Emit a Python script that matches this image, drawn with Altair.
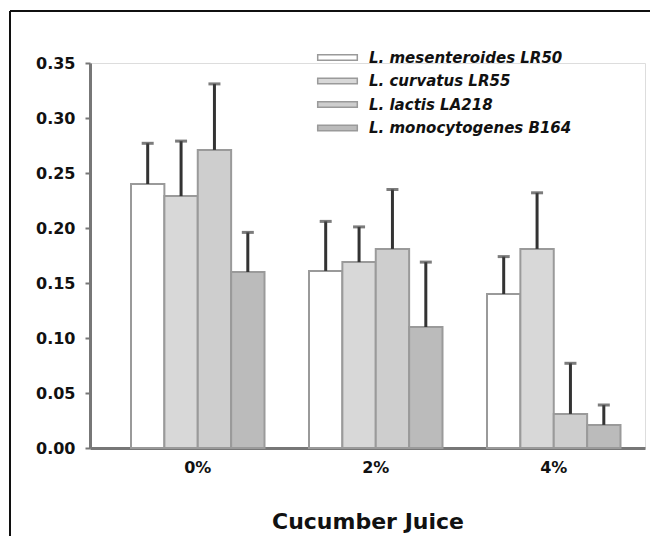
import altair as alt
import pandas as pd

groups = ["0%", "2%", "4%"]
series = ["L. mesenteroides LR50", "L. curvatus LR55", "L. lactis LA218", "L. monocytogenes B164"]
values = {
    "L. mesenteroides LR50": [0.240, 0.161, 0.140],
    "L. curvatus LR55": [0.229, 0.169, 0.181],
    "L. lactis LA218": [0.271, 0.181, 0.031],
    "L. monocytogenes B164": [0.160, 0.110, 0.021],
}
uppers = {
    "L. mesenteroides LR50": [0.277, 0.206, 0.174],
    "L. curvatus LR55": [0.279, 0.201, 0.232],
    "L. lactis LA218": [0.331, 0.235, 0.077],
    "L. monocytogenes B164": [0.196, 0.169, 0.039],
}
fills = ["#ffffff", "#d8d8d8", "#cecece", "#bbbbbb"]
y_ticks = [0, 0.05, 0.10, 0.15, 0.20, 0.25, 0.30, 0.35]

rows = []
for s in series:
    for g, v, u in zip(groups, values[s], uppers[s]):
        rows.append({"group": g, "series": s, "value": v, "upper": u})
df = pd.DataFrame(rows)

FONT = "DejaVu Sans"

x = alt.X(
    "group:N",
    sort=groups,
    scale=alt.Scale(paddingInner=0.25, paddingOuter=0.184, align=0.626),
    axis=alt.Axis(
        title="Cucumber Juice", labelAngle=0, ticks=False,
        domainColor="#777777", domainWidth=3,
        labelFont=FONT, labelFontSize=16, labelFontWeight="bold", labelColor="#111111",
        labelPadding=11,
        titleFont=FONT, titleFontSize=22, titleFontWeight="bold", titleColor="#111111",
        titleY=73, titleBaseline="middle",
    ),
)
xo = alt.XOffset("series:N", sort=series, scale=alt.Scale(paddingInner=0, paddingOuter=0))

path = "M-3.6,-0.5 L3.6,-0.5 L3.6,0.5 L-3.6,0.5 Z"

bars = alt.Chart(df).mark_bar(stroke="#9a9a9a", strokeWidth=2).encode(
    x=x,
    xOffset=xo,
    y=alt.Y(
        "value:Q", stack=None,
        scale=alt.Scale(domain=[0, 0.35], nice=False),
        axis=alt.Axis(
            title=None, values=y_ticks, format=".2f", grid=False,
            domainColor="#777777", domainWidth=3,
            tickColor="#777777", tickSize=5, tickWidth=2,
            labelFont=FONT, labelFontSize=16, labelFontWeight="bold", labelColor="#111111",
            labelPadding=10,
        ),
    ),
    fill=alt.Fill(
        "series:N", sort=series,
        scale=alt.Scale(domain=series, range=fills),
        legend=alt.Legend(
            title=None, orient="none", legendX=240, legendY=-13,
            symbolType=path, symbolSize=121, symbolStrokeColor="#9a9a9a", symbolStrokeWidth=1.5,
            labelOffset=24, rowPadding=7.5,
            labelFont=FONT, labelFontSize=15, labelFontStyle="italic", labelFontWeight="bold",
            labelColor="#111111", labelLimit=400,
        ),
    ),
)

stems = alt.Chart(df).mark_rule(color="#333333", strokeWidth=3).encode(
    x=alt.X("group:N", sort=groups), xOffset=xo, y="value:Q", y2="upper:Q"
)
caps = alt.Chart(df).mark_tick(color="#444444", thickness=3, size=12, orient="horizontal").encode(
    x=alt.X("group:N", sort=groups), xOffset=xo, y="upper:Q"
)

frame_left = alt.Chart(df).mark_rule(color="#111111", strokeWidth=1.5).encode(
    x=alt.value(-80), y=alt.value(-52), y2=alt.value(1000)
)
frame_top = alt.Chart(df).mark_rule(color="#111111", strokeWidth=1.5).encode(
    x=alt.value(-80), x2=alt.value(1000), y=alt.value(-52)
)

chart = alt.layer(bars, stems, caps, frame_left, frame_top).properties(
    width=555, height=385,
    autosize=alt.AutoSizeParams(type="none"),
    padding={"left": 82, "top": 55, "right": 5, "bottom": 88},
).configure_view(stroke=None).configure(background="white")

chart.save("out.html", embed_options={"renderer": "svg", "actions": False})
